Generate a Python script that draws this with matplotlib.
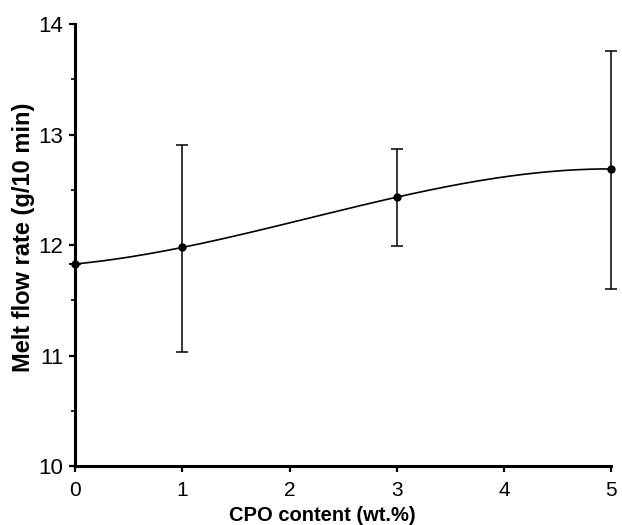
import matplotlib
matplotlib.use("Agg")
import matplotlib.pyplot as plt
import numpy as np
from matplotlib.ticker import MultipleLocator

plt.rcParams['font.family'] = ['Liberation Sans', 'DejaVu Sans']

# CPO content (wt.%) and melt flow rate (g/10 min)
cpo_content = [0, 1, 3, 5]
mfr_mean = [11.83, 11.98, 12.435, 12.69]
mfr_err_low = [0.0, 0.95, 0.445, 1.09]
mfr_err_high = [0.0, 0.93, 0.435, 1.07]

fig = plt.figure(figsize=(6.22, 5.25), dpi=100)
ax = fig.add_axes([0.121, 0.112, 0.862, 0.842])

# smooth curve through the measured points (cubic through 4 points)
coeffs = np.polyfit(cpo_content, mfr_mean, 3)
x_smooth = np.linspace(0, 5, 200)
ax.plot(x_smooth, np.polyval(coeffs, x_smooth), color='black', lw=1.2, clip_on=False)

ax.errorbar(cpo_content, mfr_mean, yerr=[mfr_err_low, mfr_err_high],
            fmt='o', color='black', ms=5, elinewidth=1.1, capsize=4,
            capthick=1.1, clip_on=False, zorder=3)

ax.set_xlim(0, 5)
ax.set_ylim(10, 14)
ax.xaxis.set_major_locator(MultipleLocator(1))
ax.yaxis.set_major_locator(MultipleLocator(1))
ax.yaxis.set_minor_locator(MultipleLocator(0.5))

for side in ['top', 'right']:
    ax.spines[side].set_visible(False)
for side in ['left', 'bottom']:
    ax.spines[side].set_linewidth(2.2)

ax.tick_params(axis='x', which='major', direction='out', length=4.5, width=1.6,
               labelsize=15, pad=6)
ax.tick_params(axis='y', which='major', direction='out', length=4.5, width=1.6,
               labelsize=16, pad=4)
ax.tick_params(axis='y', which='minor', direction='out', length=3, width=1.2)

ax.set_xlabel('CPO content (wt.%)', fontsize=14.5, fontweight='bold')
ax.set_ylabel('Melt flow rate (g/10 min)', fontsize=17, fontweight='bold')
ax.xaxis.set_label_coords(0.46, -0.089)
ax.yaxis.set_label_coords(-0.075, 0.517)

fig.savefig('out.png', dpi=100)
